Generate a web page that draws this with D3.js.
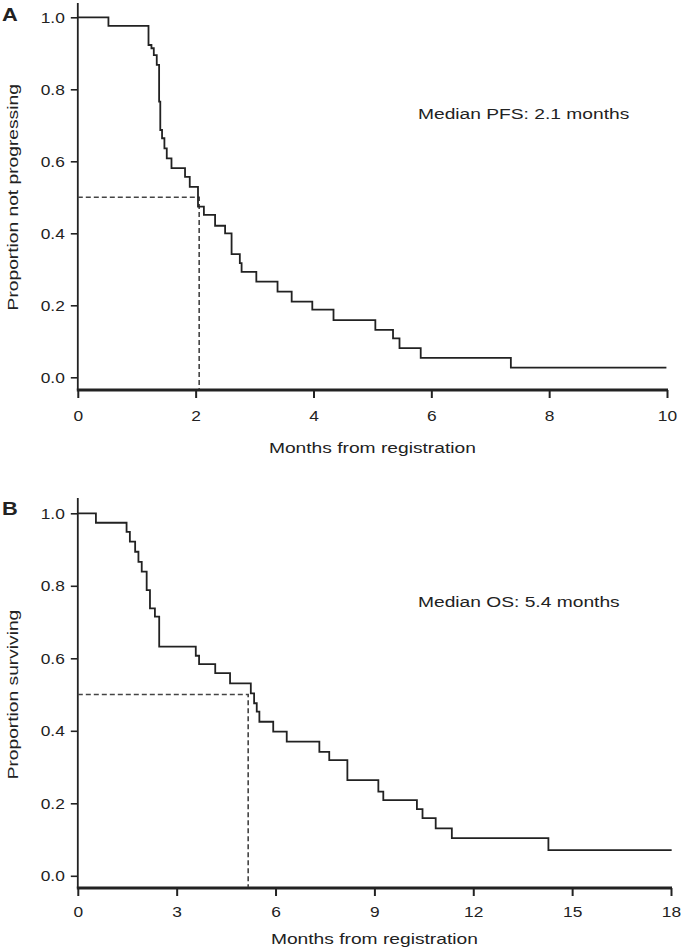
<!DOCTYPE html>
<html><head><meta charset="utf-8">
<script src="https://cdn.jsdelivr.net/npm/d3@7"></script>
<style>
body{margin:0;background:#fff}
svg{display:block}
text{font-family:"Liberation Sans",Arial,Helvetica,sans-serif;fill:#222}
</style>
</head><body><svg id="c" width="683" height="948"></svg>
<script>
// Panel A: progression-free survival (event time in months, proportion after event)
const pfsTimes = [0.52, 1.20, 1.25, 1.29, 1.34, 1.38, 1.40, 1.43, 1.47, 1.51, 1.59, 1.82, 1.90, 2.04, 2.14, 2.33, 2.50, 2.61, 2.75, 2.78, 3.03, 3.39, 3.63, 3.98, 4.34, 5.05, 5.35, 5.46, 5.82, 7.35];
const pfsSurv  = [0.976, 0.923, 0.914, 0.895, 0.868, 0.766, 0.687, 0.664, 0.636, 0.608, 0.581, 0.557, 0.529, 0.474, 0.451, 0.421, 0.400, 0.342, 0.317, 0.293, 0.266, 0.238, 0.210, 0.188, 0.159, 0.132, 0.108, 0.081, 0.054, 0.027];
const pfsEnd = 9.99;
const pfsMedian = 2.06;
const pfsXTicks = [0, 2, 4, 6, 8, 10];

// Panel B: overall survival
const osTimes = [0.55, 1.48, 1.58, 1.74, 1.84, 1.94, 2.09, 2.19, 2.34, 2.47, 3.58, 3.68, 4.17, 4.62, 5.25, 5.35, 5.43, 5.51, 5.93, 6.34, 7.33, 7.63, 8.18, 9.12, 9.27, 10.29, 10.46, 10.86, 11.35, 14.28];
const osSurv  = [0.974, 0.949, 0.922, 0.894, 0.866, 0.839, 0.788, 0.738, 0.715, 0.632, 0.607, 0.584, 0.559, 0.531, 0.503, 0.476, 0.453, 0.425, 0.398, 0.370, 0.342, 0.319, 0.264, 0.232, 0.209, 0.184, 0.159, 0.131, 0.104, 0.071];
const osEnd = 18.02;
const osMedian = 5.17;
const osXTicks = [0, 3, 6, 9, 12, 15, 18];

const yTicks = [0, 0.2, 0.4, 0.6, 0.8, 1.0];

const panels = [
  {letter:"A", times:pfsTimes, surv:pfsSurv, end:pfsEnd, median:pfsMedian, xTicks:pfsXTicks, xMax:10,
   ylabel:"Proportion not progressing", xlabel:"Months from registration", medText:"Median PFS: 2.1 months",
   xr:[77.8, 667], yr:[377.3, 17.3], axisY:390, yTop:3, letterPos:[2,21], tickBase:31, xlabBase:453, medPos:[418,119]},
  {letter:"B", times:osTimes, surv:osSurv, end:osEnd, median:osMedian, xTicks:osXTicks, xMax:18,
   ylabel:"Proportion surviving", xlabel:"Months from registration", medText:"Median OS: 5.4 months",
   xr:[77.8, 671], yr:[875.8, 513.3], axisY:888, yTop:498, letterPos:[2,515], tickBase:29, xlabBase:944, medPos:[418,607]}
];

const SX = 1.24;
const svg = d3.select("#c");

panels.forEach(p => {
  const g = svg.append("g");
  const x = d3.scaleLinear().domain([0, p.xMax]).range(p.xr);
  const y = d3.scaleLinear().domain([0, 1]).range(p.yr);
  const x0 = p.xr[0];

  // axes
  const xa = g.append("g").attr("transform", `translate(0,${p.axisY})`)
    .call(d3.axisBottom(x).tickValues(p.xTicks).tickSize(8).tickFormat(d3.format("d")));
  xa.select(".domain").remove();
  xa.selectAll(".tick line").attr("stroke", "#222").attr("stroke-width", 2);
  xa.selectAll(".tick text").attr("y", p.tickBase).attr("dy", null)
    .attr("font-size", 14).attr("fill", "#222").attr("transform", `scale(${SX},1)`);

  const ya = g.append("g").attr("transform", `translate(${x0},0)`)
    .call(d3.axisLeft(y).tickValues(yTicks).tickSize(7).tickFormat(d3.format(".1f")));
  ya.select(".domain").remove();
  ya.selectAll(".tick line").attr("stroke", "#222").attr("stroke-width", 1.6);
  ya.selectAll(".tick text").attr("x", -13 / SX).attr("dy", "0.36em")
    .attr("font-size", 14).attr("fill", "#222").attr("transform", `scale(${SX},1)`);

  g.append("line").attr("x1", x0).attr("x2", x0).attr("y1", p.yTop).attr("y2", p.axisY)
    .attr("stroke", "#222").attr("stroke-width", 1.8);
  g.append("line").attr("x1", x0 - 1).attr("x2", p.xr[1] + 1).attr("y1", p.axisY).attr("y2", p.axisY)
    .attr("stroke", "#222").attr("stroke-width", 3);

  // median dashed lines
  g.append("path")
    .attr("d", `M${x0},${y(0.5)}H${x(p.median)}V${p.axisY - 1}`)
    .attr("fill", "none").attr("stroke", "#444").attr("stroke-width", 1.6)
    .attr("stroke-dasharray", "5,3");

  // KM step curve
  const pts = [[0, 1]].concat(p.times.map((t, i) => [t, p.surv[i]]));
  pts.push([p.end, p.surv[p.surv.length - 1]]);
  const line = d3.line().x(d => x(d[0])).y(d => y(d[1])).curve(d3.curveStepAfter);
  g.append("path").attr("d", line(pts)).attr("fill", "none")
    .attr("stroke", "#222").attr("stroke-width", 1.8);

  // texts
  g.append("text").attr("transform", `translate(${p.letterPos[0]},${p.letterPos[1]}) scale(1.15,1)`)
    .attr("font-size", 19).attr("font-weight", "bold").attr("fill", "#111").text(p.letter);

  g.append("text")
    .attr("transform", `translate(${(p.xr[0] + p.xr[1]) / 2},${p.xlabBase}) scale(${SX},1)`)
    .attr("text-anchor", "middle").attr("font-size", 15.5).text(p.xlabel);

  g.append("text")
    .attr("transform", `translate(18,${(p.yr[0] + p.yr[1]) / 2}) rotate(-90) scale(${SX},1)`)
    .attr("text-anchor", "middle").attr("font-size", 15.5).text(p.ylabel);

  g.append("text")
    .attr("transform", `translate(${p.medPos[0]},${p.medPos[1]}) scale(${SX},1)`)
    .attr("font-size", 15.5).text(p.medText);
});
</script>
</body></html>
